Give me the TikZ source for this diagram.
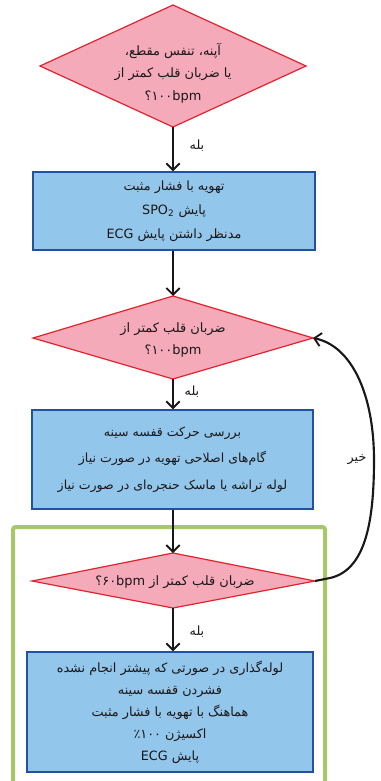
\documentclass[tikz,border=0pt]{standalone}
\usepackage{fontspec}
\usetikzlibrary{arrows.meta}
\TeXXeTstate=1
\newfontfamily\fa[Script=Arabic]{DejaVu Sans}
\newcommand{\rl}[1]{\beginR #1\endR}
\definecolor{dpink}{HTML}{F5AAB9}
\definecolor{dred}{HTML}{E2232E}
\definecolor{bblue}{HTML}{93C6EB}
\definecolor{bbord}{HTML}{22529E}
\definecolor{lgreen}{HTML}{A7C866}
\definecolor{txt}{HTML}{1A1718}
\tikzset{
  decshape/.style={draw=dred, fill=dpink, line width=0.9pt, line join=miter},
  dectext/.style={inner sep=0pt, align=center, text=txt, font=\fa\fontsize{9.7}{17}\selectfont},
  actbox/.style={shape=rectangle, draw=bbord, fill=bblue, line width=1pt, inner sep=0pt, align=center, text=txt,
    font=\fa\fontsize{9.6}{18}\selectfont},
  flow/.style={draw=txt, line width=1.6pt, -{Straight Barb[length=5pt,width=10pt,line width=1.4pt]}},
  lbl/.style={font=\fa\fontsize{9.5}{11}\selectfont, text=txt, inner sep=0pt}
}
\begin{document}
\begin{tikzpicture}[x=0.75pt,y=-0.75pt]
\useasboundingbox (0,0) rectangle (380,781);
\begin{scope}
\clip (0,0) rectangle (380,781);
\draw[lgreen, line width=3pt, rounded corners=2pt] (13,527) rectangle (325,800);
\end{scope}
% diamond 1
\coordinate (d1n) at (173,5); \coordinate (d1s) at (173,127);
\coordinate (d1w) at (40,66); \coordinate (d1e) at (306,66);
\draw[decshape] (d1n) -- (d1e) -- (d1s) -- (d1w) -- cycle;
\node[dectext] (d1) at (173,73)
  {\rl{آپنه، تنفس مقطع،}\\ \rl{یا ضربان قلب کمتر از}\\ \rl{\beginL ۱۰۰bpm\endL؟}};
\node[actbox, minimum width=282*0.75pt, minimum height=78*0.75pt] (b1) at (174,211)
  {\rl{تهویه با فشار مثبت}\\ \rl{پایش \beginL SPO\textsubscript{2}\endL}\\ \rl{مدنظر داشتن پایش \beginL ECG\endL}};
% diamond 2
\coordinate (d2n) at (173,296); \coordinate (d2s) at (173,379);
\coordinate (d2w) at (33,338); \coordinate (d2e) at (313,338);
\draw[decshape] (d2n) -- (d2e) -- (d2s) -- (d2w) -- cycle;
\node[dectext] (d2) at (173,340)
  {\rl{ضربان قلب کمتر از}\\ \rl{\beginL ۱۰۰bpm\endL؟}};
\node[actbox, minimum width=281*0.75pt, minimum height=99*0.75pt, font=\fa\fontsize{9.4}{20}\selectfont] (b2) at (172.5,459.5)
  {\rl{بررسی حرکت قفسه سینه}\\ \rl{گام‌های اصلاحی تهویه در صورت نیاز}\\ \rl{لوله تراشه یا ماسک حنجره‌ای در صورت نیاز}};
% diamond 3
\coordinate (d3n) at (173,553); \coordinate (d3s) at (173,608);
\coordinate (d3w) at (32,581); \coordinate (d3e) at (315,581);
\draw[decshape] (d3n) -- (d3e) -- (d3s) -- (d3w) -- cycle;
\node[dectext] (d3) at (175,582)
  {\rl{ضربان قلب کمتر از \beginL ۶۰bpm\endL؟}};
\node[actbox, minimum width=286*0.75pt, minimum height=120*0.75pt, font=\fa\fontsize{9.6}{16.5}\selectfont] (b3) at (170,712)
  {\rl{لوله‌گذاری در صورتی که پیشتر انجام نشده}\\ \rl{فشردن قفسه سینه}\\ \rl{هماهنگ با تهویه با فشار مثبت}\\ \rl{اکسیژن \beginL ۱۰۰\endL٪}\\ \rl{پایش \beginL ECG\endL}};
\draw[flow] (d1s) -- (b1.north -| d1s);
\draw[flow] (b1.south -| d2n) -- (d2n);
\draw[flow] (d2s) -- (b2.north -| d2s);
\draw[flow] (b2.south -| d3n) -- (d3n);
\draw[flow] (d3s) -- (b3.north -| d3s);
\coordinate (c1) at (330,578);
\draw[flow] (d3e) -- (c1) .. controls (366,570) and (374,520) .. (374,460)
  .. controls (374,395) and (352,346) .. (d2e);
\node[lbl] (y1) at (197,146) {\rl{بله}};
\node[lbl] (y2) at (192,392) {\rl{بله}};
\node[lbl] (y3) at (197,632) {\rl{بله}};
\node[lbl] (n1) at (357,460) {\rl{خیر}};
\end{tikzpicture}
\end{document}
